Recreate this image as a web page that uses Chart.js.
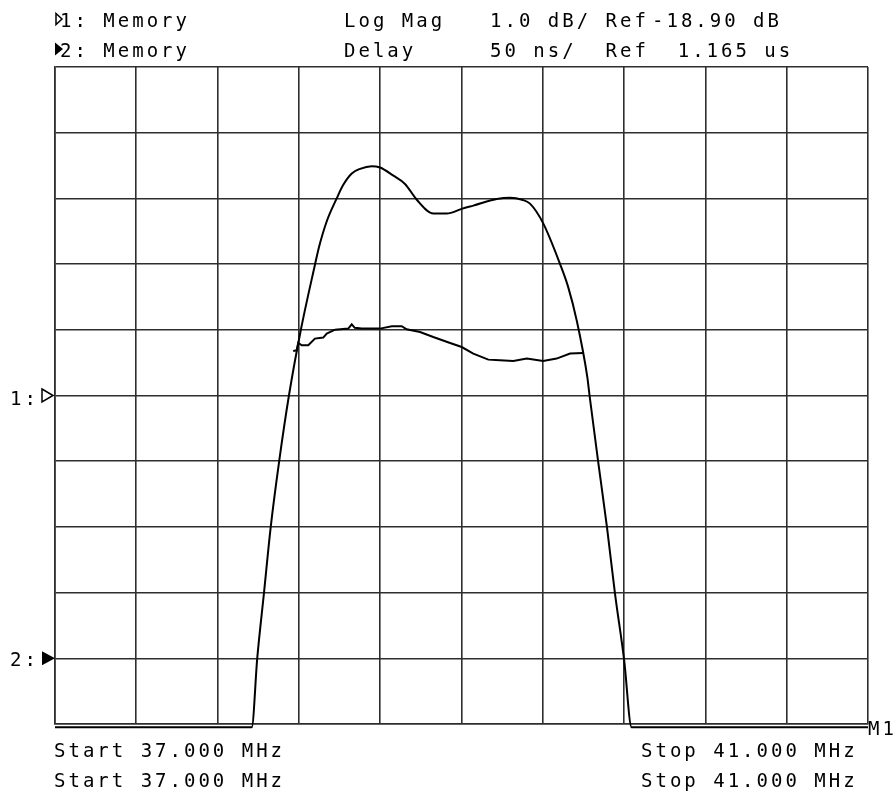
<!DOCTYPE html>
<html>
<head>
<meta charset="utf-8">
<script src="https://cdn.jsdelivr.net/npm/chart.js@4.4.0/dist/chart.umd.min.js"></script>
<style>
  html, body { margin: 0; padding: 0; background: #fff; }
  #grafico { display: block; }
</style>
</head>
<body>
<canvas id="grafico" width="895" height="793"></canvas>
<script>
const frecuenciasMag = [37.000, 37.968, 37.995, 38.028, 38.061, 38.102, 38.151, 38.209, 38.279, 38.299, 38.338, 38.386, 38.417, 38.460, 38.501, 38.558, 38.599, 38.663, 38.722, 38.780, 38.861, 38.927, 39.001, 39.058, 39.173, 39.239, 39.298, 39.337, 39.402, 39.485, 39.525, 39.567, 39.619, 39.630, 39.672, 39.716, 39.755, 39.800, 39.837, 41.000];
const magnitudDb = [-23.95, -23.95, -22.90, -21.91, -20.91, -19.92, -18.90, -17.91, -16.91, -16.64, -16.24, -15.90, -15.70, -15.52, -15.45, -15.41, -15.43, -15.55, -15.68, -15.92, -16.13, -16.13, -16.06, -16.01, -15.91, -15.89, -15.92, -15.98, -16.28, -16.90, -17.25, -17.76, -18.62, -18.90, -19.90, -20.91, -21.91, -22.92, -23.95, -23.95];

// Traza 2: Delay (us)
const frecuenciasRetardo = [38.172, 38.189, 38.197, 38.214, 38.246, 38.279, 38.320, 38.337, 38.378, 38.443, 38.460, 38.475, 38.509, 38.599, 38.657, 38.706, 38.730, 38.796, 38.861, 38.944, 39.001, 39.058, 39.132, 39.189, 39.255, 39.321, 39.402, 39.468, 39.534, 39.599];
const retardoUs = [1.3989, 1.3994, 1.4050, 1.4032, 1.4032, 1.4083, 1.4091, 1.4121, 1.4151, 1.4159, 1.4192, 1.4165, 1.4159, 1.4159, 1.4177, 1.4177, 1.4154, 1.4133, 1.4095, 1.4050, 1.4019, 1.3969, 1.3923, 1.3918, 1.3912, 1.3931, 1.3912, 1.3931, 1.3969, 1.3973];

// Escalas: 10 divisiones, referencia en la división 5 (traza 1) y 1 (traza 2)
const inicioMHz = 37.0;
const finMHz = 41.0;
const refMag = -18.90;
const dbPorDiv = 1.0;
const refRetardo = 1.165;
const usPorDiv = 0.050;

const textosCabecera = [
    { texto: "1: Memory", x: 60, y: 27 },
    { texto: "2: Memory", x: 60, y: 57 },
    { texto: "Log Mag", x: 344, y: 27 },
    { texto: "Delay", x: 344, y: 57 },
    { texto: "1.0 dB/ Ref", x: 490, y: 27 },
    { texto: "-18.90 dB", x: 652, y: 27 },
    { texto: "50 ns/  Ref  1.165 us", x: 490, y: 57 },
    { texto: "Start 37.000 MHz", x: 54, y: 757 },
    { texto: "Start 37.000 MHz", x: 54, y: 787 },
    { texto: "Stop 41.000 MHz", x: 641, y: 757 },
    { texto: "Stop 41.000 MHz", x: 641, y: 787 },
    { texto: "M1", x: 868, y: 735 }
];

document.addEventListener("DOMContentLoaded", function () {
    const fuente = "19px 'DejaVu Sans Mono', 'Liberation Mono', monospace";

    function triangulo(ctx, xPunta, yCentro, ancho, alto, relleno) {
        ctx.beginPath();
        ctx.moveTo(xPunta - ancho, yCentro - alto / 2);
        ctx.lineTo(xPunta, yCentro);
        ctx.lineTo(xPunta - ancho, yCentro + alto / 2);
        ctx.closePath();
        if (relleno) ctx.fill(); else ctx.stroke();
    }

    // Plugin para los textos de pantalla del analizador
    const pantallaPlugin = {
        id: "pantalla",
        afterDraw(chart) {
            const ctx = chart.ctx;
            ctx.save();
            ctx.fillStyle = "#000";
            ctx.strokeStyle = "#000";
            ctx.lineWidth = 1.5;
            ctx.font = fuente;
            ctx.textBaseline = "alphabetic";
            ctx.textAlign = "left";
            if ("letterSpacing" in ctx) ctx.letterSpacing = "3px";

            textosCabecera.forEach(t => ctx.fillText(t.texto, t.x, t.y));

            // marcadores de referencia en el eje izquierdo
            const yRef1 = chart.scales.y.getPixelForValue(refMag);
            const yRef2 = chart.scales.y2.getPixelForValue(refRetardo);
            const xEje = chart.chartArea.left;
            ctx.fillText("1:", 10, yRef1 + 9);
            ctx.fillText("2:", 10, yRef2 + 8);
            triangulo(ctx, xEje - 2, yRef1, 11, 13, false);
            triangulo(ctx, xEje, yRef2, 13, 14, true);

            // triangulos de la cabecera
            triangulo(ctx, 62, 19, 6, 11, false);
            triangulo(ctx, 63, 49, 8, 13, true);
            ctx.restore();
        }
    };

    const ctx = document.getElementById("grafico").getContext("2d");
    new Chart(ctx, {
        type: "line",
        data: {
            datasets: [
                {
                    label: "1: Memory Log Mag",
                    data: frecuenciasMag.map((f, i) => ({ x: f, y: magnitudDb[i] })),
                    yAxisID: "y",
                    borderColor: "#000",
                    borderWidth: 2,
                    pointRadius: 0,
                    cubicInterpolationMode: "monotone",
                    clip: false
                },
                {
                    label: "2: Memory Delay",
                    data: frecuenciasRetardo.map((f, i) => ({ x: f, y: retardoUs[i] })),
                    yAxisID: "y2",
                    borderColor: "#000",
                    borderWidth: 2,
                    pointRadius: 0,
                    tension: 0
                }
            ]
        },
        options: {
            responsive: false,
            animation: false,
            events: [],
            layout: { padding: { left: 55, right: 27, top: 67, bottom: 69 } },
            plugins: {
                legend: { display: false },
                tooltip: { enabled: false }
            },
            scales: {
                x: {
                    type: "linear",
                    min: inicioMHz,
                    max: finMHz,
                    ticks: { display: false, count: 11, autoSkip: false },
                    grid: { color: "#2e2e2e", lineWidth: 1.6, drawTicks: false },
                    border: { color: "#2e2e2e", width: 1.6 },
                    afterFit: s => { s.height = 0; }
                },
                y: {
                    min: refMag - 5 * dbPorDiv,
                    max: refMag + 5 * dbPorDiv,
                    ticks: { display: false, count: 11, autoSkip: false },
                    grid: { color: "#2e2e2e", lineWidth: 1.6, drawTicks: false },
                    border: { color: "#2e2e2e", width: 1.6 },
                    afterFit: s => { s.width = 0; }
                },
                y2: {
                    display: false,
                    min: refRetardo - 1 * usPorDiv,
                    max: refRetardo + 9 * usPorDiv
                }
            }
        },
        plugins: [pantallaPlugin]
    });
});
</script>
</body>
</html>
